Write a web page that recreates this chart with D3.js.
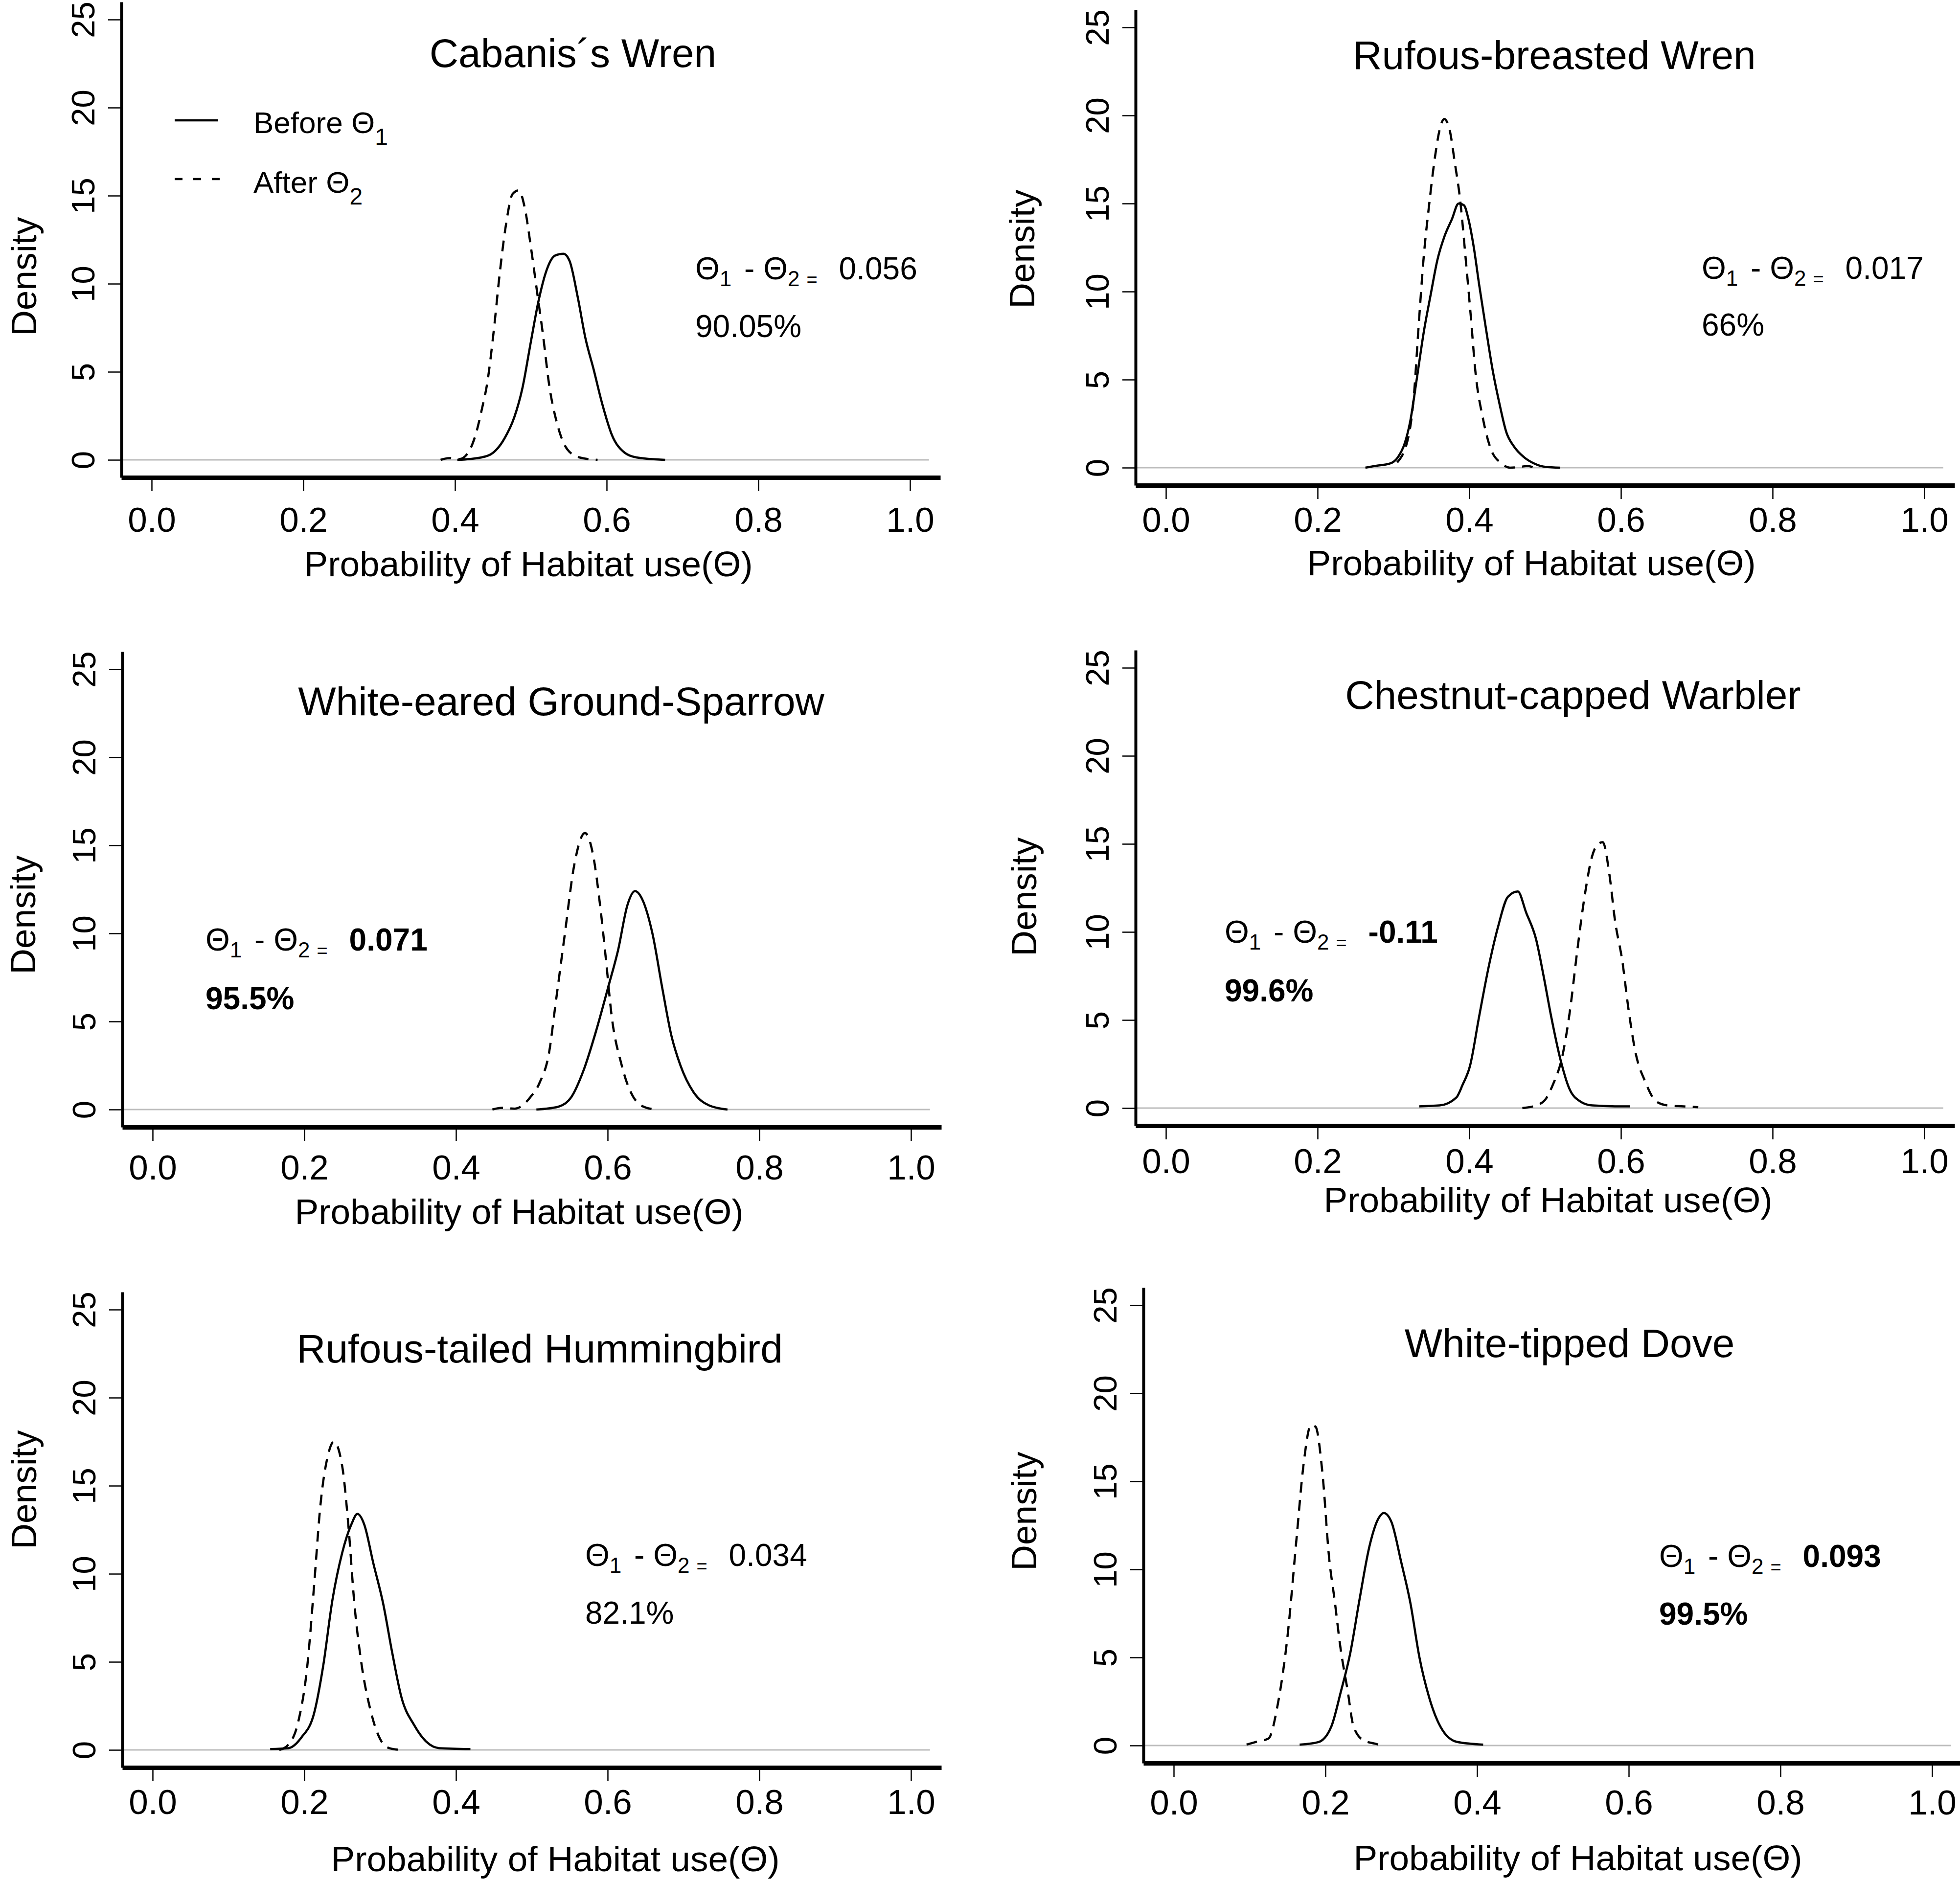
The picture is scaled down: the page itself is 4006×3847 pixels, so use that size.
<!DOCTYPE html>
<html>
<head>
<meta charset="utf-8">
<script src="https://cdn.jsdelivr.net/npm/d3@7"></script>
<style>
  body { margin: 0; background: #fff; }
  text { font-family: 'Liberation Sans', Arial, Helvetica, sans-serif; fill: #000; }
</style>
</head>
<body>
<div id="chart"></div>
<script>
// species shown, one panel each (reading order)
let species = ['Cabanis´s Wren', 'Rufous-breasted Wren', 'White-eared Ground-Sparrow',
  'Chestnut-capped Warbler', 'Rufous-tailed Hummingbird', 'White-tipped Dove']

// posterior difference and probability printed in each panel
let diffs = ['0.056', '0.017', '0.071', '-0.11', '0.034', '0.093']
let probs = ['90.05%', '66%', '95.5%', '99.6%', '82.1%', '99.5%']
let strong = [false, false, true, true, false, true]

let xTicks = [0, 0.2, 0.4, 0.6, 0.8, 1.0]
let yTicks = [0, 5, 10, 15, 20, 25]

// density curves: [theta, density]
let cabanisBefore = [[0.403, 0], [0.435, 0.14], [0.451, 0.43], [0.465, 1.2], [0.478, 2.4], [0.489, 4.1], [0.500, 6.7],
  [0.510, 9.0], [0.521, 10.8], [0.532, 11.6], [0.543, 11.7], [0.551, 11.3], [0.562, 9.2], [0.572, 6.9], [0.583, 5.1],
  [0.594, 3.2], [0.607, 1.4], [0.623, 0.43], [0.639, 0.14], [0.677, 0]]
let cabanisAfter = [[0.381, 0], [0.392, 0.1], [0.406, 0.05], [0.416, 0.33], [0.427, 1.4], [0.435, 2.8], [0.443, 4.5],
  [0.451, 7.3], [0.459, 10.6], [0.467, 13.3], [0.476, 15.1], [0.484, 15.3], [0.492, 14.3], [0.500, 12.1], [0.508, 9.6],
  [0.516, 7.1], [0.524, 4.3], [0.535, 2.0], [0.548, 0.6], [0.564, 0.14], [0.588, 0]]

let rufousWrenBefore = [[0.263, 0], [0.276, 0.1], [0.295, 0.23], [0.306, 0.6], [0.315, 1.4], [0.322, 2.6], [0.331, 5.1],
  [0.340, 7.7], [0.349, 9.8], [0.358, 11.8], [0.367, 13.1], [0.377, 14.1], [0.386, 15.0], [0.393, 14.9], [0.399, 14.1],
  [0.406, 12.5], [0.413, 10.4], [0.422, 7.9], [0.431, 5.5], [0.440, 3.6], [0.449, 2.0], [0.459, 1.2], [0.472, 0.6],
  [0.486, 0.23], [0.500, 0.05], [0.520, 0]]
let rufousWrenAfter = [[0.305, 0.3], [0.320, 1.8], [0.327, 4.1], [0.333, 7.9], [0.340, 12.0], [0.347, 14.9],
  [0.354, 17.4], [0.361, 19.2], [0.367, 19.8], [0.374, 19.2], [0.381, 17.3], [0.388, 15.2], [0.395, 12.0], [0.402, 8.6],
  [0.408, 5.5], [0.418, 2.8], [0.429, 1.0], [0.443, 0.23], [0.454, 0], [0.468, 0.05], [0.477, 0.1], [0.485, 0]]

let sparrowBefore = [[0.506, 0], [0.535, 0.16], [0.552, 0.7], [0.568, 2.2], [0.585, 4.5], [0.601, 7.0], [0.614, 9.1],
  [0.626, 11.6], [0.636, 12.4], [0.646, 11.9], [0.659, 10.0], [0.672, 6.9], [0.684, 4.2], [0.696, 2.5], [0.713, 1.0],
  [0.734, 0.23], [0.758, 0]]
let sparrowAfter = [[0.448, 0], [0.461, 0.1], [0.477, 0.05], [0.498, 0.7], [0.510, 1.5], [0.523, 3.3], [0.531, 5.9],
  [0.543, 9.8], [0.556, 13.9], [0.570, 15.7], [0.581, 14.4], [0.590, 11.6], [0.598, 8.4], [0.605, 5.4], [0.618, 2.6],
  [0.634, 0.7], [0.651, 0.1], [0.665, 0]]

let warblerBefore = [[0.334, 0.1], [0.361, 0.15], [0.383, 0.6], [0.391, 1.3], [0.401, 2.4], [0.413, 5.2], [0.426, 8.1],
  [0.438, 10.3], [0.451, 12.0], [0.464, 12.3], [0.475, 11.1], [0.488, 9.6], [0.498, 7.5], [0.508, 5.2], [0.520, 2.8],
  [0.532, 1.1], [0.547, 0.36], [0.562, 0.15], [0.592, 0.1], [0.612, 0.1]]
let warblerAfter = [[0.470, 0], [0.488, 0.15], [0.500, 0.47], [0.510, 1.3], [0.523, 3.0], [0.533, 5.6], [0.542, 8.8],
  [0.552, 12.0], [0.562, 14.3], [0.570, 15.0], [0.576, 15.1], [0.585, 13.2], [0.592, 10.7], [0.602, 8.3], [0.610, 5.6],
  [0.619, 3.2], [0.632, 1.5], [0.647, 0.36], [0.662, 0.15], [0.682, 0.1], [0.702, 0.05]]

let hummingbirdBefore = [[0.155, 0.05], [0.179, 0.1], [0.196, 0.7], [0.213, 2.1], [0.225, 4.8], [0.237, 8.5],
  [0.250, 11.2], [0.262, 12.8], [0.270, 13.4], [0.279, 12.8], [0.291, 10.6], [0.304, 8.3], [0.316, 5.5], [0.328, 3.0],
  [0.345, 1.4], [0.361, 0.46], [0.378, 0.1], [0.419, 0.05]]
let hummingbirdAfter = [[0.167, 0], [0.179, 0.3], [0.192, 1.6], [0.204, 4.8], [0.213, 9.4], [0.221, 13.8],
  [0.231, 16.7], [0.239, 17.5], [0.250, 16.1], [0.258, 12.8], [0.266, 8.3], [0.275, 5.0], [0.287, 2.3], [0.299, 0.7],
  [0.312, 0.1], [0.327, 0]]

let doveBefore = [[0.166, 0.05], [0.191, 0.2], [0.208, 1.1], [0.220, 3.0], [0.233, 5.3], [0.245, 8.3], [0.258, 11.3],
  [0.270, 12.9], [0.277, 13.2], [0.287, 12.7], [0.300, 10.4], [0.312, 8.1], [0.324, 5.0], [0.337, 2.7], [0.354, 0.9],
  [0.374, 0.2], [0.408, 0.05]]
let doveAfter = [[0.096, 0.05], [0.108, 0.2], [0.125, 0.4], [0.137, 2.3], [0.150, 6.2], [0.162, 11.8], [0.171, 15.9],
  [0.181, 18.2], [0.187, 18.1], [0.196, 15.5], [0.205, 10.6], [0.212, 8.3], [0.220, 5.5], [0.229, 3.2], [0.237, 1.1],
  [0.250, 0.3], [0.266, 0.1], [0.275, 0]]

let before = [cabanisBefore, rufousWrenBefore, sparrowBefore, warblerBefore, hummingbirdBefore, doveBefore]
let after = [cabanisAfter, rufousWrenAfter, sparrowAfter, warblerAfter, hummingbirdAfter, doveAfter]

// page layout (pixels): origin of each panel and where its texts sit
let W = 4006
let H = 3847
let ux = 1550
let uy = 36
let layout = [
  { x0: 310, y0: 940, title: [1171, 108], dens: [48, 565], xt: [1080, 1152], ann: [1421, 548, 666], tick: 86 },
  { x0: 2383, y0: 956, title: [3177, 112], dens: [2088, 509], xt: [3130, 1150], ann: [3478, 547, 663], tick: 70 },
  { x0: 312, y0: 2268, title: [1147, 1433], dens: [46, 1870], xt: [1061, 2476], ann: [420, 1920, 2040], tick: 82 },
  { x0: 2383, y0: 2265, title: [3215, 1420], dens: [2092, 1833], xt: [3164, 2452], ann: [2503, 1904, 2024], tick: 72 },
  { x0: 312, y0: 3577, title: [1103, 2756], dens: [48, 3045], xt: [1135, 3799], ann: [1196, 3178, 3296], tick: 70 },
  { x0: 2399, y0: 3568, title: [3208, 2745], dens: [2092, 3089], xt: [3225, 3797], ann: [3391, 3180, 3298], tick: 80 }
]

function main () {
  let svg = d3.select('#chart').append('svg').attr('width', W).attr('height', H)
  svg.append('rect').attr('width', W).attr('height', H).attr('fill', '#fff')
  species.forEach((name, i) => drawPanel(svg, i))
  drawLegend(svg)
}

function drawPanel (svg, i) {
  let p = layout[i]
  let x = d3.scaleLinear().domain([-0.04, 1.04]).range([p.x0 - 0.04 * ux, p.x0 + 1.04 * ux])
  let y = d3.scaleLinear().domain([-1, 26]).range([p.y0 + uy, p.y0 - 26 * uy])
  let g = svg.append('g')

  // zero reference line
  g.append('line')
    .attr('x1', x(-0.04)).attr('x2', x(1.025))
    .attr('y1', y(0)).attr('y2', y(0))
    .attr('stroke', '#bdbdbd').attr('stroke-width', 3)

  let xa = g.append('g').attr('transform', `translate(0,${y(-1)})`)
    .call(d3.axisBottom(x).tickValues(xTicks).tickFormat(d3.format('.1f')).tickSize(28).tickSizeOuter(0))
  xa.attr('font-family', null)
  xa.select('.domain').attr('stroke-width', 9)
  xa.selectAll('.tick line').attr('stroke-width', 2.5)
  xa.selectAll('.tick text').attr('font-size', 71).attr('y', p.tick + 25).attr('dy', 0)

  let ya = g.append('g').attr('transform', `translate(${x(-0.04)},0)`)
    .call(d3.axisLeft(y).tickValues(yTicks).tickSize(27).tickSizeOuter(0))
  ya.attr('font-family', null)
  ya.select('.domain').attr('stroke-width', 6)
  ya.selectAll('.tick line').attr('stroke-width', 2.5)
  ya.selectAll('.tick text').attr('font-size', 67).attr('x', 0).attr('dy', 0)
    .attr('text-anchor', 'middle').attr('transform', 'translate(-55,0) rotate(-90)')

  let line = d3.line().x((d) => x(d[0])).y((d) => y(d[1])).curve(d3.curveMonotoneX)
  g.append('path').datum(before[i]).attr('d', line)
    .attr('fill', 'none').attr('stroke', '#000').attr('stroke-width', 4.5)
  g.append('path').datum(after[i]).attr('d', line)
    .attr('fill', 'none').attr('stroke', '#000').attr('stroke-width', 4.5).attr('stroke-dasharray', '22,15')

  g.append('text').attr('x', p.title[0]).attr('y', p.title[1] + 29)
    .attr('text-anchor', 'middle').attr('font-size', 82).text(species[i])

  g.append('text').attr('text-anchor', 'middle').attr('font-size', 73)
    .attr('transform', `translate(${p.dens[0] + 26},${p.dens[1]}) rotate(-90)`).text('Density')

  g.append('text').attr('x', p.xt[0]).attr('y', p.xt[1] + 26)
    .attr('text-anchor', 'middle').attr('font-size', 73).text('Probability of Habitat use(Θ)')

  annotate(g, p.ann, diffs[i], probs[i], strong[i])
}

function annotate (g, a, diff, prob, bold) {
  let t = g.append('text').attr('x', a[0]).attr('y', a[1] + 23).attr('font-size', 64)
  t.append('tspan').text('Θ')
  t.append('tspan').attr('font-size', 44).attr('dy', 14).text('1')
  t.append('tspan').attr('dy', -14).attr('dx', 8).text(' - Θ')
  t.append('tspan').attr('font-size', 44).attr('dy', 14).text('2')
  t.append('tspan').attr('font-size', 38).attr('dx', 14).text('=')
  t.append('tspan').attr('dy', -14).attr('dx', 44).attr('font-weight', bold ? 'bold' : 'normal').text(diff)

  g.append('text').attr('x', a[0]).attr('y', a[2] + 23).attr('font-size', 64)
    .attr('font-weight', bold ? 'bold' : 'normal').text(prob)
}

function drawLegend (svg) {
  let g = svg.append('g')
  g.append('line').attr('x1', 357).attr('x2', 446).attr('y1', 246).attr('y2', 246)
    .attr('stroke', '#000').attr('stroke-width', 4.5)
  g.append('line').attr('x1', 357).attr('x2', 451).attr('y1', 366).attr('y2', 366)
    .attr('stroke', '#000').attr('stroke-width', 4.5).attr('stroke-dasharray', '16,22')
  let labels = [['Before Θ', '1', 250], ['After Θ', '2', 372]]
  labels.forEach((l) => {
    let t = g.append('text').attr('x', 518).attr('y', l[2] + 22).attr('font-size', 62)
    t.append('tspan').text(l[0])
    t.append('tspan').attr('font-size', 48).attr('dy', 24).text(l[1])
  })
}

main()
</script>
</body>
</html>
